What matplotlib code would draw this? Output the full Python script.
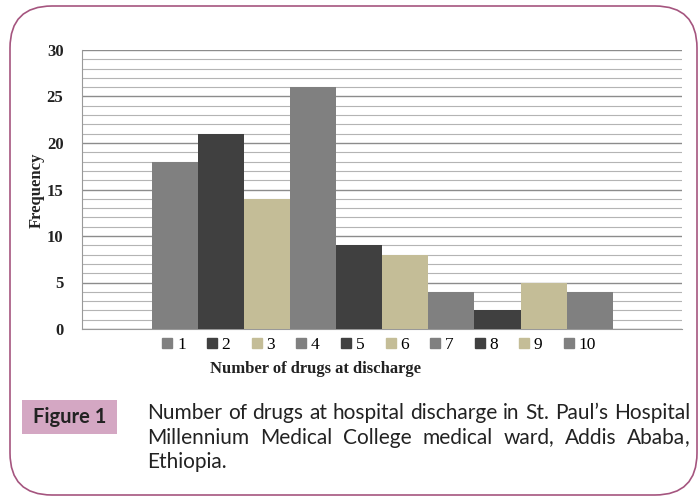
import matplotlib
matplotlib.use("Agg")
import matplotlib.pyplot as plt
from matplotlib.patches import FancyBboxPatch, Rectangle
from matplotlib.lines import Line2D
import numpy as np

categories = ["1", "2", "3", "4", "5", "6", "7", "8", "9", "10"]
frequency = [18, 21, 14, 26, 9, 8, 4, 2, 5, 4]
colors = ["#808080", "#404040", "#c4bd97", "#808080", "#404040",
          "#c4bd97", "#808080", "#404040", "#c4bd97", "#808080"]
yticks = [0, 5, 10, 15, 20, 25, 30]

W, H = 700, 499
fig = plt.figure(figsize=(7, 4.99), dpi=100)

# frame
frame = FancyBboxPatch((10 / W, 4 / H), 687 / W, 489 / H,
                       boxstyle="round,pad=0,rounding_size=0.06",
                       transform=fig.transFigure, facecolor="none",
                       edgecolor="#a5557f", linewidth=1.2, zorder=5,
                       mutation_aspect=W / H)
fig.patches.append(frame)

ax = fig.add_axes([81.5 / W, 1 - 329 / H, (682 - 81.5) / W, (329 - 50) / H])
x = np.arange(1, len(categories) + 1)
for xi, v, c, lab in zip(x, frequency, colors, categories):
    ax.bar(xi, v, width=1.0, color=c, label=lab, zorder=3)
ax.set_xlim(-1.02, 12.0)
ax.set_ylim(0, 30)
ax.set_yticks(yticks)
ax.set_yticks(np.arange(0, 31, 1), minor=True)
ax.set_xticks([])
ax.grid(True, axis="y", which="major", color="#8c8c8c", linewidth=1.0, zorder=0)
ax.grid(True, axis="y", which="minor", color="#b4b4b4", linewidth=0.8, zorder=0)
ax.tick_params(axis="y", which="both", length=0, pad=13)
for lbl in ax.get_yticklabels():
    lbl.set_fontfamily("Liberation Serif")
    lbl.set_fontweight("bold")
    lbl.set_fontsize(12)
    lbl.set_color("#222222")
for s in ["top", "right"]:
    ax.spines[s].set_visible(False)
ax.spines["left"].set_color("#999999")
ax.spines["bottom"].set_color("#999999")

fig.text(37 / W, 1 - 190 / H, "Frequency", rotation=90, ha="center", va="center",
         family="Liberation Serif", fontweight="bold", fontsize=12, color="#222222")

handles = [Line2D([0], [0], marker="s", linestyle="none", markersize=7,
                  markerfacecolor=c, markeredgecolor=c) for c in colors]
leg = fig.legend(handles, categories, loc="center", bbox_to_anchor=(379 / W, 1 - 345 / H),
                 ncol=10, frameon=False, handlelength=0.6, handletextpad=0.25,
                 columnspacing=1.22, prop={"family": "Liberation Serif", "size": 12.5})

fig.text(315 / W, 1 - 369 / H, "Number of drugs at discharge", ha="center", va="center",
         family="Liberation Serif", fontweight="bold", fontsize=12, color="#222222")

# Figure label box
fig.patches.append(Rectangle((22 / W, 1 - 434 / H), 95 / W, 34 / H,
                             transform=fig.transFigure, facecolor="#d4a7c3",
                             edgecolor="none", zorder=1))
fig.text(69.5 / W, 1 - 417 / H, "Figure 1", ha="center", va="center",
         family="Lato", fontweight="bold", fontsize=14.5, color="#222222")

lines = ["Number of drugs at hospital discharge in St. Paul\u2019s Hospital",
         "Millennium Medical College medical ward, Addis Ababa,",
         "Ethiopia."]
ys = [419, 444, 468]
x0, x1 = 147, 690
fig.canvas.draw()
renderer = fig.canvas.get_renderer()
probe = fig.text(0, 0, lines[0], family="Lato", fontsize=14)
w0 = probe.get_window_extent(renderer).width
probe.remove()
fs = 14 * (x1 - x0) / w0


def word_texts(word, yy):
    parts = [word[:-1], ","] if word.endswith(",") else [word]
    ts = [fig.text(0, 1 - yy / H, p, ha="left", va="baseline", family="Lato",
                   fontsize=fs, color="#222222") for p in parts]
    ws = [t.get_window_extent(renderer).width for t in ts]
    return ts, ws


for i, (line, yy) in enumerate(zip(lines, ys)):
    if i == len(lines) - 1:
        fig.text(x0 / W, 1 - yy / H, line, ha="left", va="baseline",
                 family="Lato", fontsize=fs, color="#222222")
        continue
    words = line.split(" ")
    groups = [word_texts(w, yy) for w in words]
    total = sum(sum(ws) for _, ws in groups)
    gap = (x1 - x0 - total) / (len(words) - 1)
    pos = x0
    for ts, ws in groups:
        for t, w in zip(ts, ws):
            t.set_x(pos / W)
            pos += w
        pos += gap

fig.savefig("out.png", dpi=100)
